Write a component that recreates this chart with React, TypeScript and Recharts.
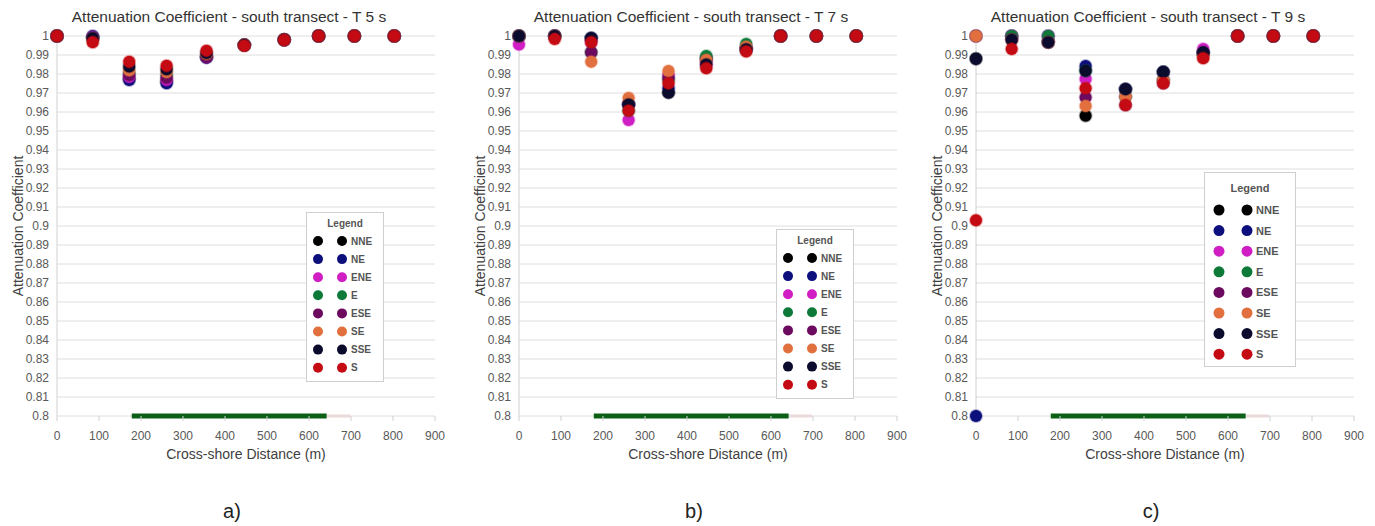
import React from "react";
import {
  CartesianGrid,
  ComposedChart,
  Legend,
  Line,
  Scatter,
  XAxis,
  YAxis,
} from "recharts";

// Wave directions, in the order the series are drawn (S ends up on top).
const DIRECTIONS = ["NNE", "NE", "ENE", "E", "ESE", "SE", "SSE", "S"];
const DIR_COLORS = [
  "#000000",
  "#0c0f7c",
  "#d01ec4",
  "#0d7a3a",
  "#6b0a5f",
  "#e2703f",
  "#0b0b2e",
  "#c40a12",
];

// Cross-shore positions of the gauges (m).
const DISTANCES = [0, 85, 172, 261, 356, 446, 541, 623, 708, 803];

const X_TICKS = [0, 100, 200, 300, 400, 500, 600, 700, 800, 900];
const Y_TICKS = [
  0.8, 0.81, 0.82, 0.83, 0.84, 0.85, 0.86, 0.87, 0.88, 0.89, 0.9, 0.91, 0.92,
  0.93, 0.94, 0.95, 0.96, 0.97, 0.98, 0.99, 1,
];

// Vegetation stretch drawn along the bottom axis, plus its faint tail.
const VEGETATION = [
  { x: 178, y: 0.8 },
  { x: 642, y: 0.8 },
];
const VEGETATION_TAIL = [
  { x: 642, y: 0.8 },
  { x: 698, y: 0.8 },
];

type Row = (number | null)[];

const T5: Record<string, Row> = {
  NNE: [1, 0.9993, 0.9775, 0.976, 0.989, 0.9952, 0.998, 1, 1, 1],
  NE: [1, 1, 0.9768, 0.9751, 0.9886, 0.9952, 0.998, 1, 1, 1],
  ENE: [1, 0.9995, 0.9785, 0.977, 0.989, 0.9952, 0.998, 1, 1, 1],
  E: [1, 0.999, 0.9805, 0.9795, 0.9895, 0.9952, 0.998, 1, 1, 1],
  ESE: [1, 0.999, 0.9795, 0.978, 0.989, 0.9952, 0.998, 1, 1, 1],
  SE: [1, 0.9985, 0.982, 0.981, 0.9905, 0.9952, 0.998, 1, 1, 1],
  SSE: [1, 0.9988, 0.984, 0.9825, 0.991, 0.9952, 0.998, 1, 1, 1],
  S: [1, 0.9967, 0.9865, 0.9844, 0.9923, 0.9949, 0.9979, 1, 1, 1],
};

const T7: Record<string, Row> = {
  NNE: [1, 1, 0.9988, 0.964, 0.9702, 0.9885, 0.993, 1, 1, 1],
  NE: [1, 1, 0.9988, 0.964, 0.9725, 0.988, 0.993, 1, 1, 1],
  ENE: [0.9955, 1, 0.9967, 0.9558, 0.9795, 0.985, 0.9944, 1, 1, 1],
  E: [1, 1, 0.9914, 0.9607, 0.977, 0.9895, 0.9958, 1, 1, 1],
  ESE: [1, 1, 0.9914, 0.964, 0.978, 0.987, 0.993, 1, 1, 1],
  SE: [1, 1, 0.9865, 0.9674, 0.9816, 0.9874, 0.9944, 1, 1, 1],
  SSE: [1, 1, 0.9988, 0.964, 0.9702, 0.985, 0.993, 1, 1, 1],
  S: [null, 0.9984, 0.9967, 0.9607, 0.9751, 0.983, 0.9918, 1, 1, 1],
};

const T9: Record<string, Row> = {
  NNE: [0.988, 1, 0.9967, 0.958, 0.972, 0.981, 0.991, 1, 1, 1],
  NE: [0.8, 1, 1, 0.9842, 0.972, 0.981, 0.991, 1, 1, 1],
  ENE: [1, 1, 1, 0.9774, 0.968, 0.9768, 0.9932, 1, 1, 1],
  E: [1, 1, 1, 0.9817, 0.968, 0.9768, 0.991, 1, 1, 1],
  ESE: [1, 0.998, 0.9967, 0.9677, 0.9637, 0.9751, 0.991, 1, 1, 1],
  SE: [1, 0.998, 0.9967, 0.9632, 0.968, 0.9768, 0.989, 1, 1, 1],
  SSE: [0.988, 0.998, 0.9967, 0.9817, 0.972, 0.981, 0.9914, 1, 1, 1],
  S: [0.903, 0.9932, null, 0.9725, 0.9637, 0.9751, 0.9883, 1, 1, 1],
};

const FONT = "'Liberation Sans', Arial, sans-serif";

interface LegendBox {
  left: number;
  top: number;
  width: number;
  height: number;
  titleY: number;
  firstRowY: number;
  rowGap: number;
  dot1X: number;
  dot2X: number;
  textX: number;
  r: number;
  fontSize: number;
}

const PANELS = [
  {
    tag: "a)",
    title: "Attenuation Coefficient - south transect - T 5 s",
    values: T5,
    left: 0,
    legend: {
      left: 306, top: 212, width: 78, height: 170, titleY: 11, firstRowY: 29,
      rowGap: 18.1, dot1X: 12, dot2X: 36, textX: 45, r: 5, fontSize: 10,
    },
  },
  {
    tag: "b)",
    title: "Attenuation Coefficient - south transect - T 7 s",
    values: T7,
    left: 462,
    legend: {
      left: 314, top: 229, width: 78, height: 170, titleY: 11, firstRowY: 29,
      rowGap: 18.1, dot1X: 12, dot2X: 36, textX: 45, r: 5, fontSize: 10,
    },
  },
  {
    tag: "c)",
    title: "Attenuation Coefficient - south transect - T 9 s",
    values: T9,
    left: 919,
    legend: {
      left: 285, top: 172, width: 92, height: 195, titleY: 16, firstRowY: 38,
      rowGap: 20.6, dot1X: 15, dot2X: 43, textX: 52, r: 5.5, fontSize: 11,
    },
  },
];

function makeLegend(box: LegendBox) {
  return (props: any) => {
    const items = (props.payload ?? [])
      .filter((p: any) => DIRECTIONS.includes(String(p.value)))
      .sort(
        (a: any, b: any) =>
          DIRECTIONS.indexOf(String(a.value)) -
          DIRECTIONS.indexOf(String(b.value)),
      );
    return (
      <svg width={box.width} height={box.height} style={{ display: "block" }}>
        <rect
          x={0.5}
          y={0.5}
          width={box.width - 1}
          height={box.height - 1}
          fill="#fff"
          stroke="#cfcfcf"
        />
        <text
          x={box.width / 2}
          y={box.titleY}
          textAnchor="middle"
          dominantBaseline="central"
          fontFamily={FONT}
          fontSize={box.fontSize}
          fontWeight="bold"
          fill="#555"
        >
          Legend
        </text>
        {items.map((p: any, i: number) => {
          const y = box.firstRowY + i * box.rowGap;
          return (
            <g key={String(p.value)}>
              <circle cx={box.dot1X} cy={y} r={box.r} fill={p.color} />
              <circle cx={box.dot2X} cy={y} r={box.r} fill={p.color} />
              <text
                x={box.textX}
                y={y}
                dominantBaseline="central"
                fontFamily={FONT}
                fontSize={box.fontSize}
                fontWeight="bold"
                fill="#555"
              >
                {p.value}
              </text>
            </g>
          );
        })}
      </svg>
    );
  };
}

function Panel({ panel }: { panel: (typeof PANELS)[number] }) {
  return (
    <div style={{ position: "absolute", left: panel.left, top: 0 }}>
      <div
        style={{
          position: "absolute",
          left: 0,
          top: 8,
          width: 458,
          textAlign: "center",
          fontFamily: FONT,
          fontSize: 15.5,
          color: "#333",
          whiteSpace: "nowrap",
        }}
      >
        {panel.title}
      </div>
      <ComposedChart
        width={460}
        height={470}
        margin={{ top: 36, right: 25, left: 0, bottom: 14 }}
      >
        <CartesianGrid vertical={false} stroke="#dedede" />
        <XAxis
          type="number"
          dataKey="x"
          domain={[0, 900]}
          ticks={X_TICKS}
          interval={0}
          height={40}
          axisLine={false}
          tickLine={{ stroke: "#d0d0d0" }}
          tickSize={5}
          tickMargin={10}
          tick={{ fill: "#595959", fontSize: 12, fontFamily: FONT }}
          label={{
            value: "Cross-shore Distance (m)",
            position: "insideBottom",
            offset: -3,
            fill: "#404040",
            fontSize: 14,
            fontFamily: FONT,
          }}
        />
        <YAxis
          type="number"
          dataKey="y"
          domain={[0.8, 1]}
          ticks={Y_TICKS}
          interval={0}
          width={57}
          axisLine={{ stroke: "#d0d0d0" }}
          tickLine={false}
          tick={{ fill: "#595959", fontSize: 12, fontFamily: FONT }}
          tickFormatter={(v: number) => String(v)}
          label={{
            value: "Attenuation Coefficient",
            angle: -90,
            position: "center",
            dx: -10,
            fill: "#404040",
            fontSize: 14,
            fontFamily: FONT,
          }}
        />
        <Line
          data={VEGETATION_TAIL}
          dataKey="y"
          stroke="#eadada"
          strokeWidth={3}
          dot={false}
          legendType="none"
          isAnimationActive={false}
        />
        <Line
          data={VEGETATION}
          dataKey="y"
          stroke="#0b6016"
          strokeWidth={5}
          dot={false}
          legendType="none"
          isAnimationActive={false}
        />
        {DIRECTIONS.map((dir, i) => {
          const color = DIR_COLORS[i];
          const data = DISTANCES.map((x, k) => ({
            x,
            y: panel.values[dir][k],
          })).filter((d) => d.y != null);
          return (
            <Scatter
              key={dir}
              name={dir}
              data={data}
              fill={color}
              isAnimationActive={false}
              shape={(p: any) => (
                <circle
                  cx={p.cx}
                  cy={p.cy}
                  r={6}
                  fill={color}
                  stroke={color}
                  strokeOpacity={0.3}
                  strokeWidth={2}
                />
              )}
            />
          );
        })}
        <Legend
          layout="vertical"
          align="center"
          verticalAlign="middle"
          content={makeLegend(panel.legend)}
          wrapperStyle={{
            left: panel.legend.left,
            top: panel.legend.top,
            width: panel.legend.width,
            height: panel.legend.height,
          }}
        />
      </ComposedChart>
      <div
        style={{
          position: "absolute",
          left: 0,
          top: 500,
          width: 464,
          textAlign: "center",
          fontFamily: FONT,
          fontSize: 20,
          color: "#222",
        }}
      >
        {panel.tag}
      </div>
    </div>
  );
}

export default function App() {
  return (
    <div
      style={{
        position: "absolute",
        left: 0,
        top: 0,
        width: 1375,
        height: 526,
        background: "#fff",
        overflow: "hidden",
      }}
    >
      {PANELS.map((p) => (
        <Panel key={p.tag} panel={p} />
      ))}
    </div>
  );
}
